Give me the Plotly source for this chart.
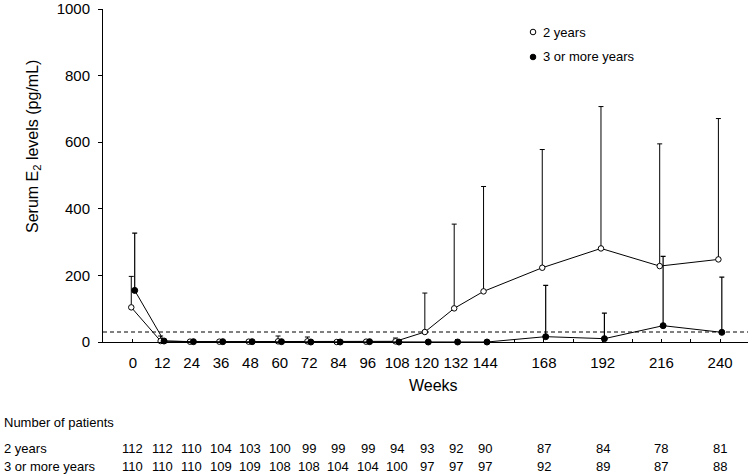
import plotly.graph_objects as go
import numpy as np

weeks = [0, 12, 24, 36, 48, 60, 72, 84, 96, 108, 120, 132, 144, 168, 192, 216, 240]
e2_2yr = [104, 3, 1, 1, 1, 2, 2, 0, 1, 2, 30, 101, 152, 223, 281, 228, 248]
e2_2yr_sd = [93, 15, 2, 2, 2, 16, 13, 1, 2, 10, 117, 253, 315, 355, 426, 367, 423]
e2_3yr = [155, 3, 1, 1, 1, 1, 0, 0, 1, 0, 0, 0, 0, 16, 10, 49, 29]
e2_3yr_sd = [172, 3, 1, 1, 1, 1, 1, 0, 1, 1, 0, 0, 0, 154, 77, 208, 166]
n_2yr = [112, 112, 110, 104, 103, 100, 99, 99, 99, 94, 93, 92, 90, 87, 84, 78, 81]
n_3yr = [110, 110, 110, 109, 109, 108, 108, 104, 104, 100, 97, 97, 97, 92, 89, 87, 88]
series_names = ["2 years", "3 or more years"]
row_title = "Number of patients"
threshold = 30

FONT = "Liberation Sans, Arial, Helvetica, sans-serif"
w = np.array(weeks, dtype=float)

# plot area in pixels: top 9, bottom 342 -> height 333
PH = 333.0
def py(pix_y):
    return (342.0 - pix_y) / PH

fig = go.Figure()
fig.add_trace(go.Scatter(
    x=w - 0.7, y=e2_2yr, mode="lines+markers", name=series_names[0],
    line=dict(color="black", width=1),
    marker=dict(symbol="circle", size=5.5, color="white", line=dict(color="black", width=1)),
    error_y=dict(type="data", array=e2_2yr_sd, arrayminus=[0] * len(weeks),
                 color="black", thickness=1, width=2.5),
    cliponaxis=False, showlegend=False))
fig.add_trace(go.Scatter(
    x=w + 0.7, y=e2_3yr, mode="lines+markers", name=series_names[1],
    line=dict(color="black", width=1),
    marker=dict(symbol="circle", size=6, color="black", line=dict(color="black", width=1)),
    error_y=dict(type="data", array=e2_3yr_sd, arrayminus=[0] * len(weeks),
                 color="black", thickness=1.2, width=2.5),
    cliponaxis=False, showlegend=False))

tickvals = list(range(0, 241, 12))
ticktext = [str(t) if t in weeks else "" for t in tickvals]

shapes = [dict(type="line", xref="paper", x0=0, x1=1, yref="y", y0=threshold, y1=threshold,
               line=dict(color="black", width=1, dash="4px,3px"), layer="below")]

annotations = []
# legend
leg_x = 0.6667
leg_ys = [py(32), py(57)]
fills = ["white", "black"]
for name, ly, fc in zip(series_names, leg_ys, fills):
    shapes.append(dict(type="circle", xref="paper", yref="paper", xsizemode="pixel", ysizemode="pixel",
                       xanchor=leg_x, yanchor=ly, x0=-2.8, x1=2.8, y0=-2.8, y1=2.8,
                       fillcolor=fc, line=dict(color="black", width=1)))
    annotations.append(dict(xref="paper", yref="paper", x=0.679, y=ly, xanchor="left", yanchor="middle",
                            text=name, showarrow=False, font=dict(family=FONT, size=13, color="black")))

# axis titles
annotations.append(dict(xref="paper", yref="paper", x=0.512, y=py(385), xanchor="center", yanchor="middle",
                        text="Weeks", showarrow=False, font=dict(family=FONT, size=16, color="black")))
annotations.append(dict(xref="paper", yref="paper", x=-0.1085, y=py(147), xanchor="center", yanchor="middle",
                        textangle=-90, text="Serum E<sub>2</sub> levels (pg/mL)", showarrow=False,
                        font=dict(family=FONT, size=16, color="black")))

# number of patients table
annotations.append(dict(xref="paper", yref="paper", x=-0.1566, y=py(422), xanchor="left", yanchor="middle",
                        text=row_title, showarrow=False, font=dict(family=FONT, size=13, color="black")))
for name, row, ry in zip(series_names, [n_2yr, n_3yr], [py(448), py(467)]):
    annotations.append(dict(xref="paper", yref="paper", x=-0.1566, y=ry, xanchor="left", yanchor="middle",
                            text=name, showarrow=False, font=dict(family=FONT, size=13, color="black")))
    for wk, n in zip(weeks, row):
        annotations.append(dict(xref="x", yref="paper", x=wk, y=ry, xanchor="center", yanchor="middle",
                                text=str(n), showarrow=False, font=dict(family=FONT, size=13, color="black")))

fig.update_layout(
    width=750, height=476,
    margin=dict(l=103, r=2, t=9, b=134),
    paper_bgcolor="white", plot_bgcolor="white",
    font=dict(family=FONT, color="black"),
    shapes=shapes, annotations=annotations,
    xaxis=dict(range=[-12.26, 251.4], tickvals=tickvals, ticktext=ticktext,
               showline=True, linecolor="black", linewidth=1, ticks="inside", ticklen=3,
               tickcolor="black", tickwidth=1, tickfont=dict(family=FONT, size=15, color="black"),
               ticklabelstandoff=7, showgrid=False, zeroline=False, automargin=False,
               ticklabeloverflow="allow"),
    yaxis=dict(range=[0, 1000], tickvals=list(range(0, 1001, 200)),
               showline=True, linecolor="black", linewidth=1, ticks="outside", ticklen=4,
               tickcolor="black", tickwidth=1, tickfont=dict(family=FONT, size=15, color="black"),
               ticklabelstandoff=5, showgrid=False, zeroline=False, automargin=False,
               ticklabeloverflow="allow"),
)

fig.write_html("out.html", config={"displayModeBar": False},
               post_script="document.body.style.margin='0';document.body.style.padding='0';")
